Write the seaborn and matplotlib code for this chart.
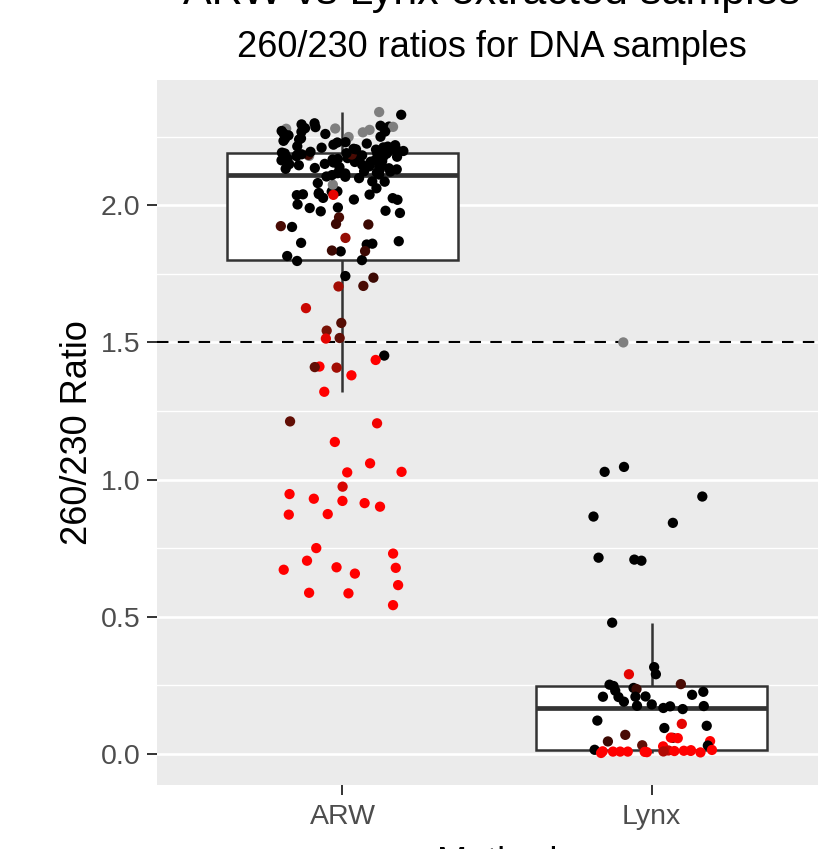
import numpy as np
import pandas as pd
import matplotlib
matplotlib.use("Agg")
import matplotlib.pyplot as plt
import seaborn as sns
from matplotlib.colors import LinearSegmentedColormap, to_hex

# ---------------- data ----------------
methods = ["ARW", "Lynx"]

# ARW 260/230 ratios and colour variable (0 = red, 1 = black, nan = grey)
arw_outliers = [1.212, 1.205, 1.137, 1.059, 1.028, 1.026, 0.974, 0.947, 0.930, 0.922,
                0.914, 0.901, 0.874, 0.872, 0.750, 0.730, 0.704, 0.680, 0.678, 0.671,
                0.657, 0.615, 0.587, 0.585, 0.542]
arw_outliers_shade = [0.6, 0.05, 0.0, 0.0, 0.0, 0.0, 0.15, 0.0, 0.0, 0.0,
                      0.0, 0.0, 0.0, 0.0, 0.0, 0.0, 0.0, 0.0, 0.0, 0.0,
                      0.0, 0.0, 0.0, 0.0, 0.0]
arw_low = [1.797, 1.742, 1.736, 1.706, 1.704, 1.625, 1.571, 1.543, 1.516, 1.514,
           1.452, 1.436, 1.412, 1.380, 1.410, 1.408, 1.320]
arw_low_shade = [1.0, 1.0, 0.75, 0.7, 0.35, 0.2, 0.65, 0.5, 0.6, 0.1,
                 1.0, 0.0, 0.0, 0.0, 0.6, 0.35, 0.0]
arw_box_low = [1.800, 2.105, 2.051, 2.039, 2.050, 2.026, 2.040, 2.087, 2.075, 2.038,
               2.099, 2.104, 2.110, 1.924, 1.921, 1.930, 1.881, 1.857, 1.869, 1.833,
               1.815, 2.045, 2.021, 1.990, 1.972, 2.020, 1.980, 1.956, 2.086, 2.037,
               2.041, 1.992, 1.860, 1.832, 2.003, 2.027, 1.978, 2.081, 1.863, 1.835,
               1.932, 2.062]
arw_box_low_shade = [1.0, 1.0, 1.0, 1.0, 1.0, 1.0, 1.0, 1.0, np.nan, 0.1,
                     1.0, 1.0, 1.0, 0.7, 1.0, 0.75, 0.4, 1.0, 1.0, 0.75,
                     1.0, 1.0, 1.0, 1.0, 1.0, 1.0, 1.0, 0.7, 1.0, 1.0,
                     1.0, 1.0, 1.0, 1.0, 1.0, 1.0, 1.0, 1.0, 1.0, 0.75,
                     0.75, 1.0]
arw_box_high = [2.112, 2.116, 2.117, 2.119, 2.123, 2.124, 2.128, 2.131, 2.133, 2.135,
                2.136, 2.139, 2.141, 2.142, 2.146, 2.148, 2.150, 2.151, 2.153, 2.156,
                2.158, 2.159, 2.161, 2.163, 2.164, 2.167, 2.169, 2.171, 2.172, 2.174,
                2.176, 2.177, 2.179, 2.180, 2.182, 2.183, 2.184, 2.185, 2.186, 2.187,
                2.188, 2.189, 2.190]
arw_box_high_shade = [1.0, 1.0, 1.0, 1.0, 1.0, 1.0, 1.0, 1.0, 1.0, 1.0,
                      1.0, 1.0, 1.0, 1.0, 1.0, 1.0, 1.0, 1.0, 1.0, 1.0,
                      1.0, 1.0, 1.0, 1.0, 1.0, 1.0, 1.0, 1.0, 1.0, 1.0,
                      1.0, 1.0, 1.0, np.nan, 1.0, 1.0, 0.75, 0.7, 1.0, 1.0,
                      1.0, 1.0, 1.0]
arw_top = [2.340, 2.330, 2.299, 2.295, 2.287, 2.286, 2.281, 2.280, 2.275, 2.269,
           2.268, 2.266, 2.250, 2.249, 2.244, 2.243, 2.285, 2.290, 2.279, 2.271,
           2.260, 2.255, 2.240, 2.235, 2.230, 2.225, 2.221, 2.215, 2.210, 2.206,
           2.201, 2.198, 2.195, 2.192, 2.211, 2.219, 2.229, 2.203, 2.214, 2.204,
           2.196, 2.262]
arw_top_shade = [np.nan, 1.0, 1.0, 1.0, 1.0, np.nan, 1.0, np.nan, np.nan, 1.0,
                 1.0, np.nan, 1.0, np.nan, 1.0, 1.0, 1.0, 1.0, np.nan, 1.0,
                 1.0, 1.0, 1.0, 1.0, 1.0, 1.0, 1.0, 1.0, 1.0, 1.0,
                 1.0, 1.0, 1.0, 1.0, 1.0, 1.0, 1.0, 1.0, 1.0, 1.0,
                 1.0, 1.0]

# Lynx 260/230 ratios and colour variable
lynx_ratio = [1.500, 1.046, 1.028, 0.938, 0.865, 0.842, 0.715, 0.708, 0.704, 0.478,
              0.316, 0.290, 0.290, 0.254, 0.252, 0.247, 0.240, 0.236, 0.230, 0.226,
              0.215, 0.208, 0.208, 0.207, 0.209, 0.190, 0.180, 0.174, 0.175, 0.173,
              0.167, 0.163, 0.121, 0.109, 0.102, 0.094, 0.069, 0.058, 0.057, 0.059,
              0.045, 0.046, 0.030, 0.031, 0.027, 0.0145, 0.014, 0.013, 0.012, 0.011,
              0.008, 0.008, 0.008, 0.0085, 0.003, 0.005, 0.006, 0.007, 0.009, 0.010,
              0.0105]
lynx_shade = [np.nan, 1.0, 1.0, 1.0, 1.0, 1.0, 1.0, 1.0, 1.0, 1.0,
              1.0, 1.0, 0.1, 0.7, 1.0, 1.0, 1.0, 0.75, 1.0, 1.0,
              1.0, 1.0, 1.0, 1.0, 1.0, 1.0, 1.0, 1.0, 1.0, 1.0,
              1.0, 1.0, 1.0, 0.1, 1.0, 1.0, 0.7, 0.6, 0.0, 0.0,
              0.75, 0.0, 1.0, 0.6, 0.0, 1.0, 0.0, 0.0, 0.2, 0.0,
              0.0, 0.0, 0.0, 0.3, 0.0, 0.0, 0.0, 0.0, 0.0, 0.0,
              0.0]

arw_ratio = arw_outliers + arw_low + arw_box_low + arw_box_high + arw_top
arw_shade = arw_outliers_shade + arw_low_shade + arw_box_low_shade + arw_box_high_shade + arw_top_shade

# ---------------- build frame ----------------
cmap = LinearSegmentedColormap.from_list("rb", ["#FF0000", "#7A1206", "#000000"])
def to_colour(v):
    if v is None or (isinstance(v, float) and np.isnan(v)):
        return "#7F7F7F"
    return to_hex(cmap(v))

df = pd.DataFrame({
    "Method": ["ARW"] * len(arw_ratio) + ["Lynx"] * len(lynx_ratio),
    "Ratio": arw_ratio + lynx_ratio,
    "Shade": arw_shade + lynx_shade,
})
df["Colour"] = [to_colour(v) for v in df["Shade"]]
palette = {c: c for c in df["Colour"].unique()}

# ---------------- plot ----------------
plt.rcParams["font.family"] = ["Liberation Sans", "DejaVu Sans"]
W, H = 818, 849
fig = plt.figure(figsize=(W / 100, H / 100), dpi=100)
ax = fig.add_axes([157 / W, 64 / H, 680 / W, 705 / H])
ax.set_facecolor("#EBEBEB")
for s in ax.spines.values():
    s.set_visible(False)

ax.set_axisbelow(True)
ax.set_yticks([0.25, 0.75, 1.25, 1.75, 2.25], minor=True)
ax.grid(which="major", color="white", linewidth=1.9)
ax.grid(which="minor", axis="y", color="white", linewidth=0.95)

sns.boxplot(data=df, x="Method", y="Ratio", order=methods, color="white",
            linecolor="#333333", linewidth=1.8, width=0.75, showfliers=False,
            showcaps=False, medianprops=dict(linewidth=3.4), ax=ax)

ax.axhline(1.5, color="black", linewidth=1.5, linestyle=(0, (5.5, 4.5)), zorder=3)

np.random.seed(7)
sns.stripplot(data=df, x="Method", y="Ratio", order=methods, hue="Colour",
              palette=palette, jitter=0.2, size=7.4, linewidth=0, legend=False,
              ax=ax, zorder=4)

lo, hi = min(df["Ratio"]), max(df["Ratio"])
pad = 0.05 * (hi - lo)
ax.set_ylim(lo - pad, hi + pad)
ax.set_xlim(-0.6, 1.6)
ax.set_yticks([0.0, 0.5, 1.0, 1.5, 2.0])
ax.set_yticklabels(["0.0", "0.5", "1.0", "1.5", "2.0"])
ax.tick_params(axis="both", which="major", length=7, width=1.4, color="#333333",
               labelcolor="#4D4D4D", labelsize=20.5)
ax.tick_params(axis="x", pad=7)
ax.tick_params(axis="y", pad=5)
ax.tick_params(which="minor", length=0)

ax.set_ylabel("260/230 Ratio", fontsize=26, color="black", labelpad=4)
ax.set_xlabel("Method", fontsize=26, color="black", labelpad=11.5)

fig.text(492 / W, 1 - 57 / H, "260/230 ratios for DNA samples", fontsize=26,
         ha="center", va="baseline", color="black")
fig.text(492 / W, 1 - 4 / H, "ARW vs Lynx extracted samples", fontsize=31,
         ha="center", va="baseline", color="black")

fig.savefig("out.png", dpi=100)
